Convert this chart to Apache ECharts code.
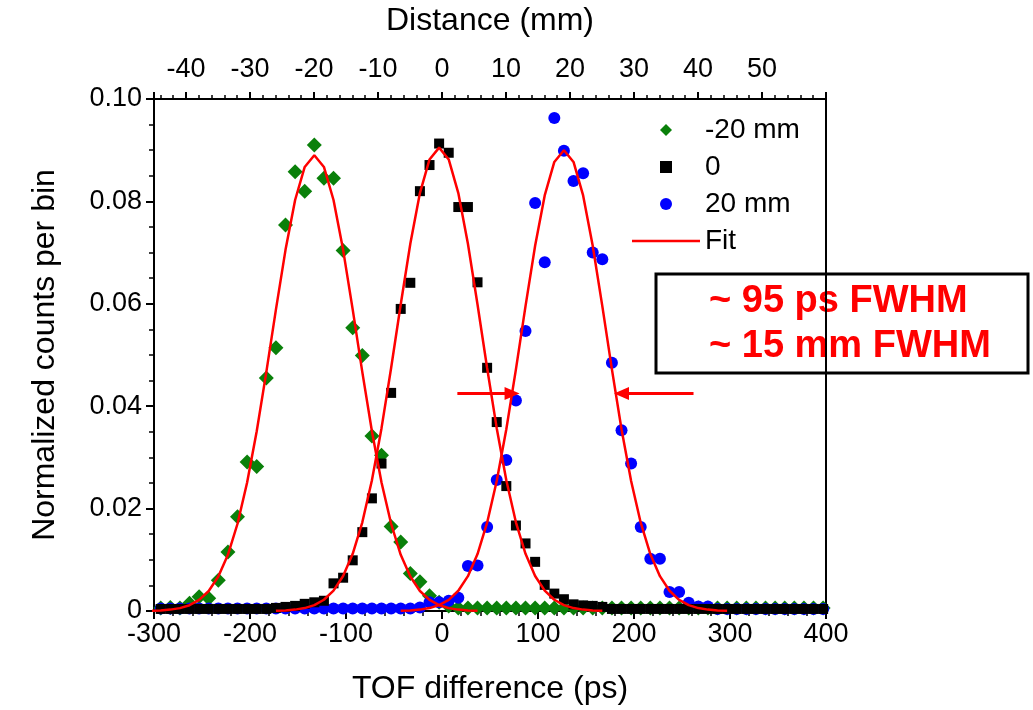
<!DOCTYPE html>
<html>
<head>
<meta charset="utf-8">
<script src="https://cdn.jsdelivr.net/npm/echarts@6.0.0/dist/echarts.min.js"></script>
<style>
  html, body { margin: 0; padding: 0; background: #fff; }
  #chart { width: 1033px; height: 710px; }
</style>
</head>
<body>
<div id="chart"></div>
<script>
// histogram bins are 10 ps wide; first bin centre of every measured series
const binStart = -293
const binStep = 10

// measured, normalized counts per bin
const minus20mm = [
  0.0006, 0.0007, 0.0006, 0.0015, 0.0028, 0.0025, 0.0060, 0.0115, 0.0184, 0.0291,
  0.0282, 0.0455, 0.0514, 0.0754, 0.0858, 0.0820, 0.0910, 0.0845, 0.0845, 0.0704,
  0.0553, 0.0499, 0.0342, 0.0304, 0.0165, 0.0135, 0.0073, 0.0057, 0.0030, 0.0017,
  0.0010, 0.0006, 0.0006, 0.0006, 0.0006, 0.0006, 0.0006, 0.0006, 0.0006, 0.0006,
  0.0006, 0.0006, 0.0006, 0.0006, 0.0006, 0.0006, 0.0006, 0.0006, 0.0006, 0.0006,
  0.0006, 0.0006, 0.0006, 0.0006, 0.0006, 0.0006, 0.0006, 0.0006, 0.0006, 0.0006,
  0.0006, 0.0006, 0.0006, 0.0006, 0.0006, 0.0006, 0.0006, 0.0006, 0.0006, 0.0006
]
const zeroMm = [
  0.0004, 0.0004, 0.0004, 0.0004, 0.0004, 0.0004, 0.0004, 0.0004, 0.0004, 0.0004,
  0.0004, 0.0004, 0.0006, 0.0008, 0.0010, 0.0014, 0.0017, 0.0020, 0.0054, 0.0065,
  0.0099, 0.0154, 0.0220, 0.0288, 0.0426, 0.0590, 0.0641, 0.0820, 0.0871, 0.0913,
  0.0895, 0.0789, 0.0789, 0.0642, 0.0475, 0.0369, 0.0244, 0.0167, 0.0132, 0.0096,
  0.0051, 0.0034, 0.0023, 0.0013, 0.0011, 0.0010, 0.0008, 0.0004, 0.0004, 0.0004,
  0.0004, 0.0004, 0.0004, 0.0004, 0.0004, 0.0004, 0.0004, 0.0004, 0.0004, 0.0004,
  0.0004, 0.0004, 0.0004, 0.0004, 0.0004, 0.0004, 0.0004, 0.0004, 0.0004, 0.0004
]
const plus20mm = [
  0.0005, 0.0005, 0.0005, 0.0005, 0.0005, 0.0005, 0.0005, 0.0005, 0.0005, 0.0005,
  0.0005, 0.0005, 0.0005, 0.0005, 0.0005, 0.0005, 0.0005, 0.0005, 0.0005, 0.0005,
  0.0005, 0.0005, 0.0005, 0.0005, 0.0005, 0.0005, 0.0005, 0.0007, 0.0017, 0.0017,
  0.0020, 0.0026, 0.0088, 0.0089, 0.0164, 0.0256, 0.0295, 0.0411, 0.0547, 0.0797,
  0.0681, 0.0963, 0.0899, 0.0840, 0.0855, 0.0700, 0.0687, 0.0485, 0.0353, 0.0288,
  0.0164, 0.0102, 0.0102, 0.0037, 0.0037, 0.0016, 0.0009, 0.0009, 0.0004, 0.0004,
  0.0004, 0.0004, 0.0004, 0.0004, 0.0004, 0.0004, 0.0004, 0.0004, 0.0004, 0.0004
]

// fit curves, read at the same 10 ps spacing, each with its own first point
const fitMinus20Start = -303
const fitMinus20 = [
  0.00005, 0.00012, 0.00027, 0.00056, 0.00113, 0.00216, 0.00391, 0.00673, 0.01098,
  0.01704, 0.02511, 0.03512, 0.04666, 0.05887, 0.07054, 0.08027, 0.08673, 0.0890,
  0.08673, 0.08027, 0.07054, 0.05887, 0.04666, 0.03512, 0.02511, 0.01704, 0.01098,
  0.00673, 0.00391, 0.00216, 0.00113, 0.00056, 0.00027, 0.00012, 0.00005
]
const fitZeroStart = -173
const fitZero = [
  0.00005, 0.00012, 0.00027, 0.00057, 0.00115, 0.00220, 0.00397, 0.00684, 0.01117,
  0.01733, 0.02553, 0.03571, 0.04745, 0.05987, 0.07173, 0.08162, 0.08819, 0.0905,
  0.08819, 0.08162, 0.07173, 0.05987, 0.04745, 0.03571, 0.02553, 0.01733, 0.01117,
  0.00684, 0.00397, 0.00220, 0.00115, 0.00057, 0.00027, 0.00012, 0.00005
]
const fitPlus20Start = -43
const fitPlus20 = [
  0.00005, 0.00012, 0.00027, 0.00057, 0.00114, 0.00218, 0.00395, 0.00680, 0.01111,
  0.01724, 0.02539, 0.03551, 0.04719, 0.05954, 0.07133, 0.08117, 0.08771, 0.0900,
  0.08771, 0.08117, 0.07133, 0.05954, 0.04719, 0.03551, 0.02539, 0.01724, 0.01111,
  0.00680, 0.00395, 0.00218, 0.00114, 0.00057, 0.00027, 0.00012, 0.00005
]

// FWHM arrows: [x from, x to, y] in data units
const arrowLeft = [16, 73, 0.0425]
const arrowRight = [262, 187, 0.0425]

const legendNames = ['-20 mm', '0', '20 mm', 'Fit']
const noteLines = ['~ 95 ps FWHM', '~ 15 mm FWHM']

const FONT = '"Liberation Sans", Arial, sans-serif'

function pairs(start, values) {
  return values.map((v, i) => [start + i * binStep, v])
}

const axisText = { color: '#000', fontFamily: FONT, fontSize: 27 }
const nameText = { color: '#000', fontFamily: FONT, fontSize: 32 }
const blackLine = { onZero: false, lineStyle: { color: '#000', width: 2 } }

const chart = echarts.init(document.getElementById('chart'))

chart.setOption({
  animation: false,
  backgroundColor: '#fff',
  grid: { left: 154, right: 207, top: 95, bottom: 98 },
  legend: {
    orient: 'vertical',
    left: 632,
    top: 116,
    padding: 0,
    itemWidth: 68,
    itemHeight: 12,
    itemGap: 9,
    symbolKeepAspect: true,
    textStyle: { color: '#000', fontFamily: FONT, fontSize: 28, lineHeight: 28 },
    data: [
      { name: legendNames[0], icon: 'path://M0,-1L1,0L0,1L-1,0z' },
      { name: legendNames[1], icon: 'path://M0,0h1v1h-1z', itemStyle: { borderWidth: 0 } },
      { name: legendNames[2], icon: 'circle' },
      { name: legendNames[3], icon: 'path://M0,0h68v2.5h-68z', itemStyle: { color: '#ff0000' } }
    ]
  },
  xAxis: [
    {
      type: 'value',
      position: 'bottom',
      min: -300,
      max: 400,
      interval: 100,
      name: 'TOF difference (ps)',
      nameLocation: 'middle',
      nameGap: 62,
      nameTextStyle: nameText,
      axisLine: blackLine,
      axisTick: { length: 8, lineStyle: { color: '#000', width: 2 } },
      minorTick: { show: true, splitNumber: 5, length: 5, lineStyle: { color: '#000', width: 1.5 } },
      axisLabel: { ...axisText, margin: 10 },
      splitLine: { show: false }
    },
    {
      type: 'value',
      position: 'top',
      min: -45,
      max: 60,
      splitNumber: 10,
      name: 'Distance (mm)',
      nameLocation: 'middle',
      nameGap: 62,
      nameTextStyle: nameText,
      axisLine: blackLine,
      axisTick: { length: 7, lineStyle: { color: '#000', width: 2 } },
      minorTick: { show: true, splitNumber: 5, length: 4, lineStyle: { color: '#000', width: 1.5 } },
      axisLabel: { ...axisText, margin: 16, showMinLabel: false, showMaxLabel: false },
      splitLine: { show: false }
    }
  ],
  yAxis: [
    {
      type: 'value',
      position: 'left',
      min: 0,
      max: 0.1,
      interval: 0.02,
      name: 'Normalized counts per bin',
      nameLocation: 'middle',
      nameGap: 93,
      nameTextStyle: nameText,
      axisLine: blackLine,
      axisTick: { length: 8, lineStyle: { color: '#000', width: 2 } },
      minorTick: { show: true, splitNumber: 4, length: 5, lineStyle: { color: '#000', width: 1.5 } },
      axisLabel: {
        ...axisText,
        margin: 12,
        formatter: v => (v === 0 ? '0' : v.toFixed(2))
      },
      splitLine: { show: false }
    },
    {
      type: 'value',
      position: 'right',
      min: 0,
      max: 0.1,
      axisLine: { show: true, onZero: false, lineStyle: { color: '#000', width: 2 } },
      axisTick: { show: false },
      axisLabel: { show: false },
      splitLine: { show: false }
    }
  ],
  series: [
    {
      name: legendNames[0],
      type: 'scatter',
      symbol: 'diamond',
      symbolSize: 15,
      itemStyle: { color: '#0a800a', opacity: 1 },
      data: pairs(binStart, minus20mm)
    },
    {
      name: legendNames[2],
      type: 'scatter',
      symbol: 'circle',
      symbolSize: 12,
      itemStyle: { color: '#0000ff', opacity: 1 },
      data: pairs(binStart, plus20mm)
    },
    {
      name: legendNames[1],
      type: 'scatter',
      symbol: 'rect',
      symbolSize: 10,
      itemStyle: { color: '#000', opacity: 1 },
      data: pairs(binStart, zeroMm)
    },
    {
      name: 'Fit',
      type: 'line',
      symbol: 'none',
      lineStyle: { color: '#ff0000', width: 2.5 },
      itemStyle: { color: '#ff0000' },
      data: pairs(fitMinus20Start, fitMinus20)
    },
    {
      name: 'Fit',
      type: 'line',
      symbol: 'none',
      lineStyle: { color: '#ff0000', width: 2.5 },
      itemStyle: { color: '#ff0000' },
      data: pairs(fitZeroStart, fitZero)
    },
    {
      name: 'Fit',
      type: 'line',
      symbol: 'none',
      lineStyle: { color: '#ff0000', width: 2.5 },
      itemStyle: { color: '#ff0000' },
      data: pairs(fitPlus20Start, fitPlus20),
      markLine: {
        silent: true,
        symbol: ['none', 'triangle'],
        symbolSize: [13, 15],
        label: { show: false },
        lineStyle: { color: '#ff0000', width: 3, type: 'solid' },
        data: [
          [{ coord: [arrowLeft[0], arrowLeft[2]] }, { coord: [arrowLeft[1], arrowLeft[2]] }],
          [{ coord: [arrowRight[0], arrowRight[2]] }, { coord: [arrowRight[1], arrowRight[2]] }]
        ]
      }
    }
  ],
  graphic: [
    {
      type: 'group',
      z: 100,
      children: [
        {
          type: 'rect',
          shape: { x: 656, y: 274, width: 372, height: 99 },
          style: { fill: '#fff', stroke: '#000', lineWidth: 3 }
        },
        {
          type: 'text',
          x: 709,
          y: 302,
          style: {
            text: noteLines[0],
            fill: '#ff0000',
            font: 'bold 38px ' + FONT,
            verticalAlign: 'middle'
          }
        },
        {
          type: 'text',
          x: 709,
          y: 347,
          style: {
            text: noteLines[1],
            fill: '#ff0000',
            font: 'bold 38px ' + FONT,
            verticalAlign: 'middle'
          }
        }
      ]
    }
  ]
})
</script>
</body>
</html>
